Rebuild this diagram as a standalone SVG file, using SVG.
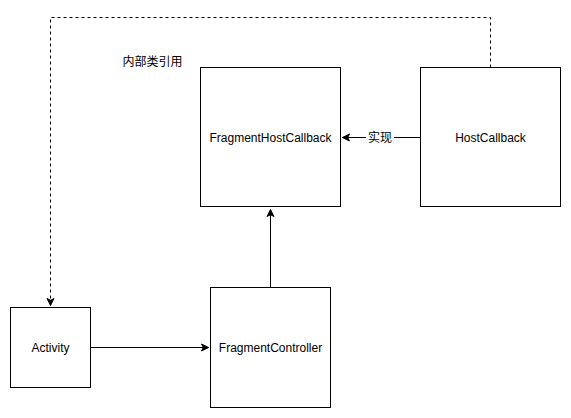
<svg xmlns="http://www.w3.org/2000/svg" width="571" height="418" viewBox="0 0 571 418">
<defs>
<style>
.box{fill:#fff;stroke:#000;stroke-width:1}
.lbl{font-family:"Liberation Sans","Noto Sans CJK SC",Arial,sans-serif;font-size:12px;fill:#000;text-anchor:middle;dominant-baseline:central}
.edge{fill:none;stroke:#000;stroke-width:1}
.dash{stroke-dasharray:3 3}
</style>
<marker id="arr" markerWidth="10" markerHeight="10" refX="8" refY="5" orient="auto" markerUnits="userSpaceOnUse">
<path d="M1,1.5 L8,5 L1,8.5 L2.8,5 Z" fill="#000" stroke="#000" stroke-width="1"/>
</marker>
</defs>
<rect width="571" height="418" fill="#fff"/>
<g id="connectors">
<path class="edge dash" d="M490.5,67.5 V17.5 H50.5 V305.5" marker-end="url(#arr)"/>
<path class="edge" d="M420.5,137.5 H342.5" marker-end="url(#arr)"/>
<path class="edge" d="M270.5,287.5 V209.5" marker-end="url(#arr)"/>
<path class="edge" d="M90.5,347.5 H208.5" marker-end="url(#arr)"/>
<rect x="366" y="129" width="28" height="17" fill="#fff"/>
<text class="lbl" x="380" y="137.5">实现</text>
<text class="lbl" x="152.5" y="62">内部类引用</text>
</g>
<g id="FragmentHostCallback">
<rect class="box" x="200.5" y="67.5" width="140" height="139"/>
<text class="lbl" x="270.5" y="137.5">FragmentHostCallback</text>
</g>
<g id="HostCallback">
<rect class="box" x="420.5" y="67.5" width="140" height="139"/>
<text class="lbl" x="490.5" y="137.5">HostCallback</text>
</g>
<g id="Activity">
<rect class="box" x="10.5" y="307.5" width="80" height="80"/>
<text class="lbl" x="50.5" y="347.5">Activity</text>
</g>
<g id="FragmentController">
<rect class="box" x="210.5" y="287.5" width="120" height="120"/>
<text class="lbl" x="270.5" y="347.5">FragmentController</text>
</g>
</svg>
